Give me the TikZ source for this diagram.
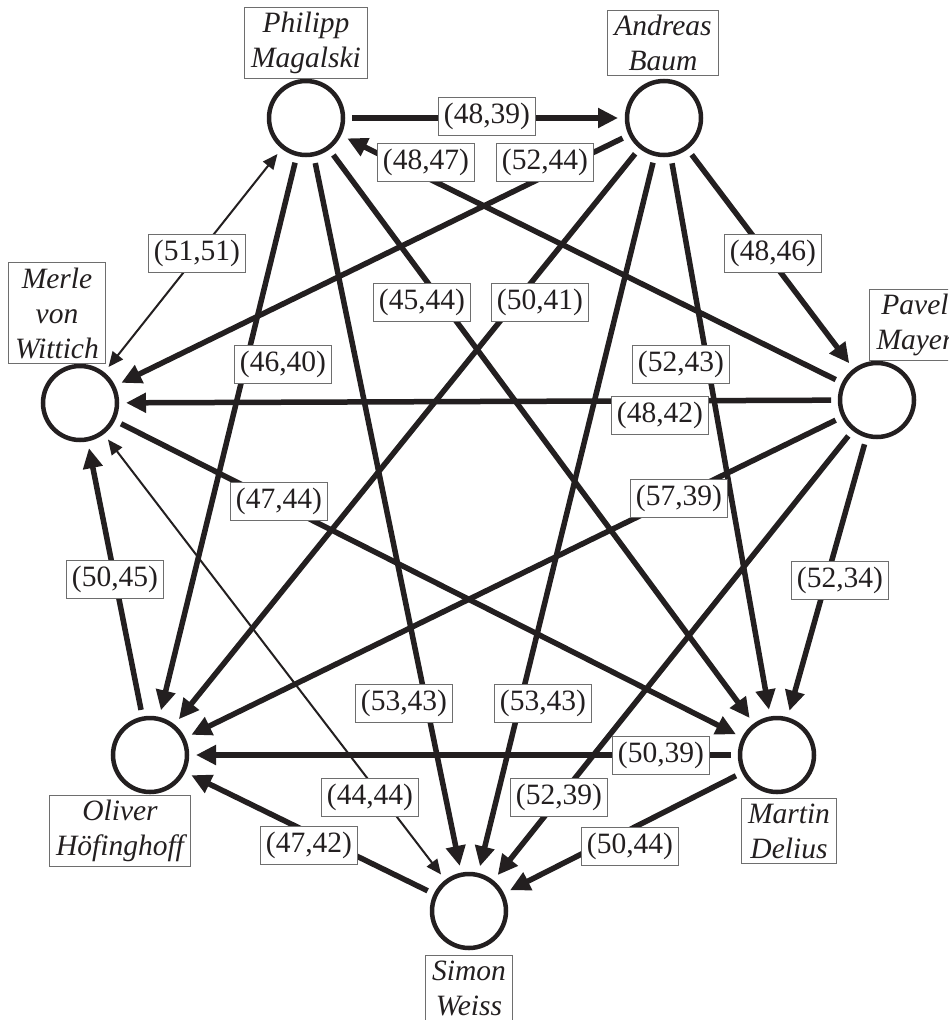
\documentclass[tikz,border=0pt]{standalone}
\usepackage{fontspec}
\setmainfont{Liberation Serif}
\usetikzlibrary{arrows.meta}
\definecolor{ink}{HTML}{231F20}
\definecolor{boxgray}{HTML}{6E6E6E}
\begin{document}
\begin{tikzpicture}[x=1pt,y=-1pt,
  person/.style={circle, draw=ink, line width=4.5pt, minimum size=74pt, inner sep=0pt, outer sep=9pt},
  namebox/.style={draw=boxgray, line width=1pt, fill=white, text=ink,
    font=\fontsize{29.5}{35}\selectfont\itshape, align=center, inner xsep=7pt, inner ysep=5pt},
  labbox/.style={draw=boxgray, line width=1pt, fill=white, text=ink,
    font=\fontsize{29.5}{35}\selectfont, inner xsep=5.5pt, inner ysep=6pt, text height=20pt, text depth=6pt},
  strong/.style={draw=ink, line width=5.5pt, -{Triangle[length=20pt,width=19pt]}},
  weak/.style={draw=ink, line width=2pt, {Triangle[length=15pt,width=13pt]}-{Triangle[length=15pt,width=13pt]}},
]
\clip (0,0) rectangle (948,1020);
\fill[white] (0,0) rectangle (948,1020);

% persons
\node[person] (PM) at (306,118) {};
\node[person] (AB) at (664,118) {};
\node[person] (Pa) at (877,400) {};
\node[person] (Ma) at (777,755) {};
\node[person] (Si) at (469,911) {};
\node[person] (Ol) at (150,755) {};
\node[person] (Me) at (80,403) {};

% names
\node[namebox] (nPM) at (306,43) {Philipp\\Magalski};
\node[namebox] (nAB) at (663,43) {Andreas\\Baum};
\node[namebox] (nPa) at (915,325) {Pavel\\Mayer};
\node[namebox] (nMe) at (57,313) {Merle\\von\\Wittich};
\node[namebox] (nOl) at (120,831) {Oliver\\Höfinghoff};
\node[namebox] (nMa) at (789,831) {Martin\\Delius};
\node[namebox] (nSi) at (469,988) {Simon\\Weiss};

% connectors
\draw[strong] (PM) -- (AB);
\draw[strong] (Pa) -- (PM);
\draw[strong] (AB) -- (Me);
\draw[weak]   (PM) -- (Me);
\draw[strong] (AB) -- (Pa);
\draw[strong] (PM) -- (Ma);
\draw[strong] (AB) -- (Ol);
\draw[strong] (PM) -- (Ol);
\draw[strong] (AB) -- (Ma);
\draw[strong] (Pa) -- (Me);
\draw[strong] (Me) -- (Ma);
\draw[strong] (Pa) -- (Ol);
\draw[strong] (Ol) -- (Me);
\draw[strong] (Pa) -- (Ma);
\draw[strong] (PM) -- (Si);
\draw[strong] (AB) -- (Si);
\draw[strong] (Ma) -- (Ol);
\draw[strong] (Pa) -- (Si);
\draw[weak]   (Me) -- (Si);
\draw[strong] (Si) -- (Ol);
\draw[strong] (Ma) -- (Si);

% labels
\node[labbox] (l01) at (487,116) {(48,39)};
\node[labbox] (l02) at (426,162) {(48,47)};
\node[labbox] (l03) at (545,162) {(52,44)};
\node[labbox] (l04) at (197,253) {(51,51)};
\node[labbox] (l05) at (773,253) {(48,46)};
\node[labbox] (l06) at (422,302) {(45,44)};
\node[labbox] (l07) at (540,302) {(50,41)};
\node[labbox] (l08) at (283,364) {(46,40)};
\node[labbox] (l09) at (681,364) {(52,43)};
\node[labbox] (l10) at (660,415) {(48,42)};
\node[labbox] (l11) at (279,501) {(47,44)};
\node[labbox] (l12) at (679,498) {(57,39)};
\node[labbox] (l13) at (115,579) {(50,45)};
\node[labbox] (l14) at (840,580) {(52,34)};
\node[labbox] (l15) at (404,703) {(53,43)};
\node[labbox] (l16) at (543,703) {(53,43)};
\node[labbox] (l17) at (661,755) {(50,39)};
\node[labbox] (l18) at (559,797) {(52,39)};
\node[labbox] (l19) at (370,797) {(44,44)};
\node[labbox] (l20) at (309,845) {(47,42)};
\node[labbox] (l21) at (630,846) {(50,44)};
\end{tikzpicture}
\end{document}
